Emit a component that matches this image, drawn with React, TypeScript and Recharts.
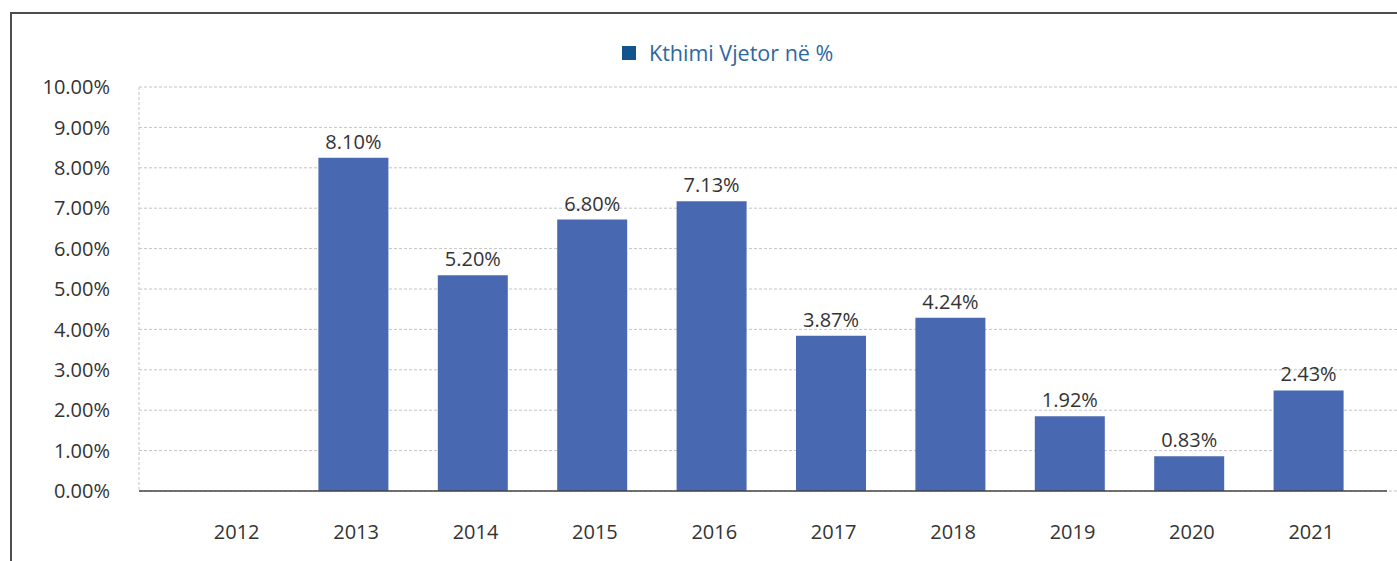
import { BarChart, Bar, XAxis, YAxis, CartesianGrid, Legend, LabelList } from 'recharts';

const years = ['2012', '2013', '2014', '2015', '2016', '2017', '2018', '2019', '2020', '2021'];
// bar heights as drawn in the picture
const returns = [null, 8.25, 5.34, 6.72, 7.17, 3.84, 4.29, 1.85, 0.86, 2.49];
// value labels as printed above the bars
const returnLabels = ['', '8.10%', '5.20%', '6.80%', '7.13%', '3.87%', '4.24%', '1.92%', '0.83%', '2.43%'];
const yTicks = [0, 1, 2, 3, 4, 5, 6, 7, 8, 9, 10];

const seriesName = 'Kthimi Vjetor në %';

const chartData = years.map((year, i) => ({
  year,
  value: returns[i],
  label: returnLabels[i],
}));

const FONT = '"Open Sans", "Noto Sans", sans-serif';

const LegendContent = () => (
  <div style={{ display: 'flex', alignItems: 'center', fontFamily: FONT, fontSize: 21.5, color: '#2e67a2' }}>
    <span style={{ width: 14, height: 14, background: '#13548f', display: 'inline-block', marginRight: 13 }} />
    <span>{seriesName}</span>
  </div>
);

const App = () => {
  return (
    <div
      style={{
        position: 'absolute',
        left: 10,
        top: 12,
        width: 1387,
        height: 549,
        borderTop: '2px solid #4d4d4d',
        borderLeft: '2px solid #4d4d4d',
        boxSizing: 'border-box',
        overflow: 'hidden',
        background: '#fff',
      }}
    >
      <BarChart
        width={1385}
        height={547}
        data={chartData}
        margin={{ top: 44, right: 0, bottom: 30, left: 0 }}
        style={{ fontFamily: FONT }}
      >
        <CartesianGrid vertical={false} stroke="#c4c4c4" strokeDasharray="3 2" />
        <Legend
          verticalAlign="top"
          content={<LegendContent />}
          wrapperStyle={{ top: 24, left: 610, width: 280 }}
        />
        <XAxis
          dataKey="year"
          padding={{ left: 35, right: 29 }}
          axisLine={{ stroke: '#444', strokeWidth: 1.5, strokeDasharray: '1248 2000' }}
          tickLine={false}
          tickSize={0}
          tickMargin={34}
          height={40}
          tick={{ fill: '#333', fontSize: 20, dx: 3 }}
          interval={0}
        />
        <YAxis
          domain={[0, 10]}
          ticks={yTicks}
          width={127}
          axisLine={{ stroke: '#c4c4c4', strokeDasharray: '3 2' }}
          tickLine={false}
          tickSize={0}
          tickMargin={29}
          tick={{ fill: '#333', fontSize: 20 }}
          tickFormatter={(v: number) => `${v.toFixed(2)}%`}
          interval={0}
        />
        <Bar dataKey="value" name={seriesName} fill="#4868b1" barSize={70} isAnimationActive={false}>
          <LabelList dataKey="label" position="top" offset={9} fill="#333" fontSize={20} />
        </Bar>
      </BarChart>
    </div>
  );
};

export default App;
